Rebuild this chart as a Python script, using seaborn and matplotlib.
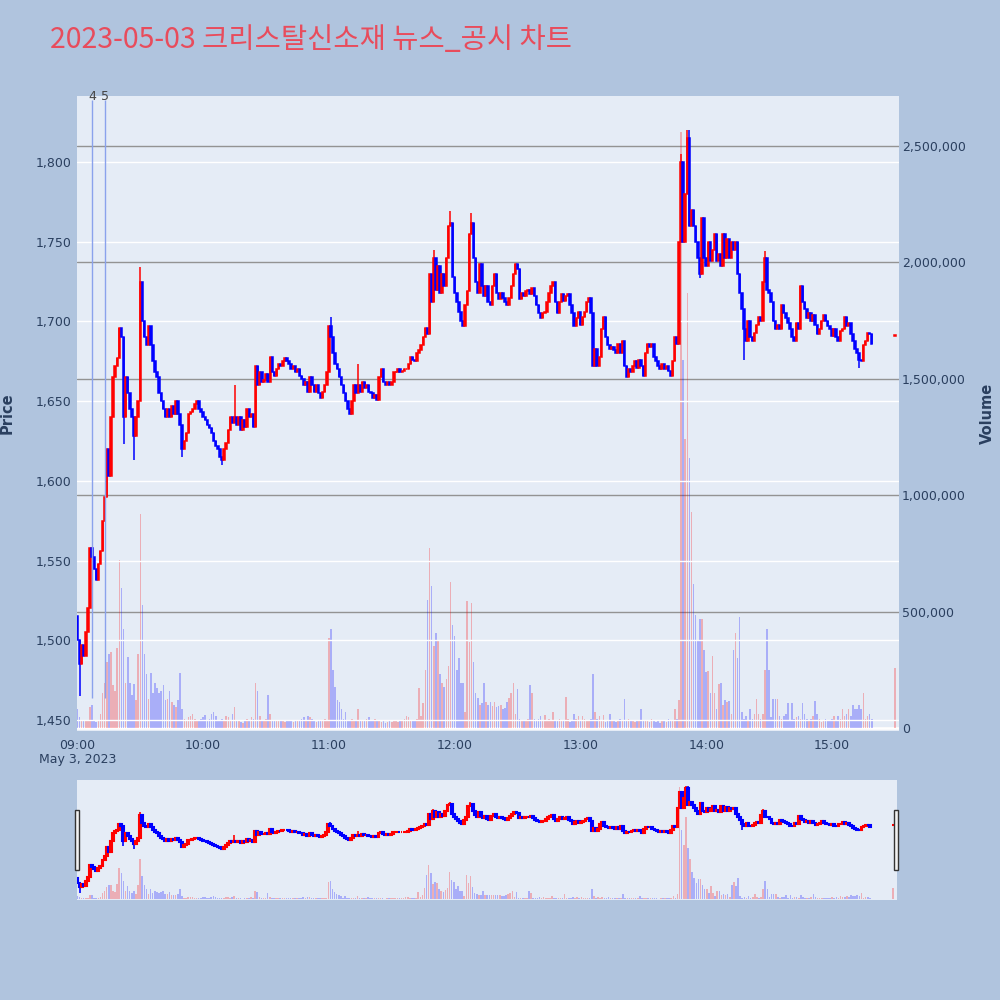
import numpy as np
import pandas as pd
import matplotlib
matplotlib.use("Agg")
import matplotlib.pyplot as plt
import matplotlib.dates as mdates
from matplotlib.ticker import FuncFormatter, FixedLocator
from matplotlib.patches import Rectangle
import seaborn as sns

title = "2023-05-03 크리스탈신소재 뉴스_공시 차트"
day = "2023-05-03"
session_start = "2023-05-03 09:00"
first_open = 1515

# 1-minute closes, 09:00 .. 15:19
closes = [
    1500, 1485, 1497, 1490, 1505, 1520, 1558, 1552, 1545, 1538,
    1548, 1556, 1575, 1590, 1620, 1603, 1640, 1665, 1672, 1677,
    1696, 1690, 1640, 1665, 1655, 1645, 1640, 1628, 1640, 1650,
    1725, 1700, 1690, 1685, 1697, 1685, 1675, 1668, 1665, 1655,
    1650, 1645, 1640, 1645, 1640, 1647, 1642, 1650, 1642, 1635,
    1620, 1625, 1630, 1642, 1643, 1645, 1648, 1650, 1645, 1643,
    1640, 1638, 1635, 1633, 1630, 1625, 1622, 1620, 1615, 1613,
    1620, 1624, 1632, 1640, 1636, 1640, 1635, 1640, 1632, 1638,
    1634, 1645, 1640, 1642, 1634, 1672, 1660, 1668, 1662, 1663,
    1667, 1662, 1678, 1668, 1666, 1670, 1673, 1672, 1675, 1677,
    1675, 1673, 1670, 1672, 1668, 1670, 1666, 1664, 1660, 1662,
    1656, 1665, 1660, 1656, 1660, 1655, 1652, 1656, 1660, 1668,
    1697, 1690, 1680, 1673, 1670, 1665, 1660, 1655, 1650, 1645,
    1642, 1650, 1660, 1655, 1660, 1656, 1662, 1658, 1660, 1656,
    1655, 1652, 1654, 1651, 1665, 1670, 1662, 1660, 1662, 1660,
    1662, 1668, 1668, 1670, 1668, 1669, 1670, 1670, 1673, 1678,
    1676, 1675, 1680, 1682, 1685, 1690, 1696, 1692, 1730, 1712,
    1740, 1720, 1735, 1718, 1730, 1722, 1740, 1760, 1762, 1728,
    1718, 1712, 1706, 1700, 1697, 1710, 1719, 1755, 1762, 1740,
    1725, 1718, 1736, 1722, 1716, 1722, 1712, 1710, 1722, 1730,
    1718, 1714, 1718, 1715, 1712, 1710, 1715, 1722, 1730, 1736,
    1733, 1714, 1718, 1716, 1719, 1720, 1717, 1721, 1716, 1710,
    1705, 1702, 1705, 1706, 1712, 1718, 1722, 1725, 1712, 1705,
    1712, 1717, 1713, 1716, 1717, 1710, 1705, 1697, 1702, 1706,
    1698, 1703, 1706, 1712, 1715, 1705, 1672, 1683, 1672, 1678,
    1695, 1703, 1690, 1685, 1683, 1684, 1682, 1680, 1686, 1680,
    1688, 1672, 1665, 1670, 1668, 1672, 1675, 1671, 1676, 1672,
    1666, 1680, 1686, 1684, 1686, 1678, 1675, 1672, 1670, 1673,
    1670, 1672, 1669, 1666, 1675, 1690, 1686, 1750, 1800, 1750,
    1780, 1815, 1760, 1770, 1760, 1750, 1740, 1730, 1765, 1740,
    1735, 1750, 1738, 1745, 1755, 1738, 1742, 1735, 1755, 1740,
    1752, 1740, 1750, 1745, 1750, 1730, 1718, 1708, 1695, 1688,
    1700, 1690, 1688, 1693, 1698, 1703, 1700, 1725, 1740, 1720,
    1718, 1712, 1700, 1695, 1698, 1695, 1710, 1705, 1702, 1699,
    1695, 1690, 1688, 1699, 1695, 1722, 1712, 1708, 1702, 1705,
    1700, 1704, 1698, 1692, 1695, 1700, 1704, 1700, 1697, 1695,
    1691, 1695, 1690, 1688, 1694, 1695, 1703, 1697, 1699, 1692,
    1688, 1683, 1680, 1676, 1675, 1685, 1688, 1693, 1692, 1686,
]

# 1-minute volume in thousands of shares
volumes_k = [
    80, 45, 30, 35, 30, 35, 90, 97, 30, 25,
    30, 60, 150, 195, 283, 318, 327, 185, 160, 343,
    720, 600, 424, 194, 304, 194, 141, 190, 120, 318,
    918, 530, 318, 230, 124, 238, 150, 194, 170, 150,
    160, 185, 120, 124, 160, 110, 100, 90, 120, 238,
    80, 40, 35, 45, 50, 60, 40, 30, 35, 40,
    45, 55, 30, 40, 60, 70, 50, 35, 30, 40,
    35, 50, 45, 30, 60, 88, 35, 30, 25, 20,
    35, 40, 30, 45, 40, 194, 159, 50, 30, 35,
    40, 141, 60, 35, 30, 35, 30, 35, 30, 25,
    30, 35, 30, 25, 30, 35, 30, 40, 45, 30,
    53, 45, 40, 30, 25, 35, 30, 35, 40, 30,
    388, 424, 247, 177, 120, 110, 80, 40, 70, 35,
    30, 40, 30, 35, 80, 30, 35, 30, 40, 45,
    30, 35, 40, 30, 35, 25, 30, 20, 25, 30,
    25, 30, 35, 25, 30, 35, 40, 50, 45, 35,
    30, 35, 40, 170, 50, 106, 250, 549, 772, 610,
    353, 406, 380, 230, 194, 177, 212, 265, 627, 441,
    397, 247, 300, 194, 194, 70, 547, 370, 539, 283,
    150, 130, 100, 106, 194, 110, 100, 110, 95, 110,
    90, 95, 100, 80, 85, 110, 130, 150, 194, 60,
    168, 40, 30, 35, 30, 40, 185, 150, 40, 30,
    40, 50, 35, 55, 30, 40, 35, 70, 30, 35,
    40, 30, 35, 132, 40, 25, 30, 60, 40, 50,
    30, 50, 40, 35, 30, 40, 230, 70, 40, 50,
    30, 55, 25, 30, 60, 30, 35, 25, 30, 40,
    35, 124, 30, 40, 35, 30, 25, 30, 35, 80,
    30, 35, 30, 25, 40, 30, 25, 30, 20, 35,
    30, 25, 40, 35, 30, 80, 40, 120, 2560, 1580,
    1240, 1870, 1160, 927, 617, 485, 373, 467, 467, 335,
    240, 245, 150, 309, 150, 80, 189, 194, 100, 120,
    110, 115, 60, 335, 406, 300, 477, 70, 40, 50,
    30, 80, 40, 60, 124, 60, 40, 60, 247, 424,
    247, 45, 124, 124, 124, 50, 40, 50, 60, 106,
    30, 106, 40, 45, 50, 40, 106, 60, 40, 30,
    40, 50, 115, 60, 40, 25, 30, 40, 35, 30,
    40, 50, 30, 50, 40, 80, 50, 60, 80, 50,
    97, 80, 80, 100, 80, 150, 40, 50, 60, 40,
]

# closing auction print
auction_time = "2023-05-03 15:30"
auction_price = 1691
auction_volume_k = 257

# wicks that reach past the candle bodies (minute index, price)
high_minute = [30, 75, 121, 134, 170, 178, 188, 288, 291, 292, 328]
high_price = [1734, 1660, 1703, 1673, 1745, 1769, 1768, 1805, 1820, 1820, 1744]
low_minute = [1, 22, 27, 50, 69, 297, 318, 373]
low_price = [1465, 1623, 1613, 1615, 1610, 1727, 1676, 1671]

# news / disclosure markers
news_times = ["2023-05-03 09:07", "2023-05-03 09:13"]
news_labels = ["4", "5"]
news_low, news_high = 1464, 1839

price_ticks = [1450, 1500, 1550, 1600, 1650, 1700, 1750, 1800]
volume_ticks = [0, 500000, 1000000, 1500000, 2000000, 2500000]
hour_ticks = ["09:00", "10:00", "11:00", "12:00", "13:00", "14:00", "15:00"]

UP, DOWN = "#FF0000", "#0000FF"
BG, PLOT_BG, TXT = "#B0C4DE", "#E5ECF6", "#2A3F5F"

# ---- build the frame ----
df = pd.DataFrame({
    "time": pd.date_range(session_start, periods=len(closes), freq="min"),
    "close": closes,
    "volume": np.array(volumes_k) * 1000,
})
df["open"] = [first_open] + closes[:-1]
df["high"] = df[["open", "close"]].max(axis=1)
df["low"] = df[["open", "close"]].min(axis=1)
for m, v in zip(high_minute, high_price):
    df.loc[m, "high"] = max(df.loc[m, "high"], v)
for m, v in zip(low_minute, low_price):
    df.loc[m, "low"] = min(df.loc[m, "low"], v)
df.loc[len(df)] = [pd.Timestamp(auction_time), auction_price, auction_volume_k * 1000,
                   auction_price, auction_price, auction_price]
df["up"] = df["close"] >= df["open"]
df["color"] = np.where(df["up"], UP, DOWN)
df["x"] = mdates.date2num(df["time"])

MIN = 1 / 1440.0
x_lo = mdates.date2num(pd.Timestamp(session_start)) - 0.2 * MIN
x_hi = mdates.date2num(pd.Timestamp("2023-05-03 15:32"))
price_lim = (1443.1, 1841.4)
vol_lim = (-13000, 2715000)

sns.set_theme(style="darkgrid", rc={"axes.facecolor": PLOT_BG, "figure.facecolor": BG})
plt.rcParams["font.family"] = ["DejaVu Sans", "Noto Sans CJK KR"]


def draw_candles(ax, body_w, body_lw, wick_lw):
    ax.vlines(df["x"], df["low"], df["high"], colors=df["color"], linewidth=wick_lw, zorder=3)
    bottoms = df[["open", "close"]].min(axis=1)
    heights = (df["close"] - df["open"]).abs().clip(lower=0.4)
    ax.bar(df["x"], heights, bottom=bottoms, width=body_w * MIN, color=df["color"],
           edgecolor=df["color"], linewidth=body_lw, zorder=4)


def draw_volume(ax):
    ax.bar(df["x"], df["volume"], width=0.75 * MIN, color=df["color"], alpha=0.26,
           linewidth=0, antialiased=False, zorder=2)


fig = plt.figure(figsize=(10, 10), dpi=100, facecolor=BG)

# ---- main chart ----
ax_vol = fig.add_axes([0.077, 0.269, 0.822, 0.635])
ax_vol.set_facecolor(PLOT_BG)
draw_volume(ax_vol)
ax_vol.axhline(0, color="white", linewidth=2, zorder=1)
ax_vol.set_ylim(*vol_lim)
ax_vol.set_xlim(x_lo, x_hi)

ax_p = ax_vol.twinx()
ax_p.patch.set_visible(False)
draw_candles(ax_p, 0.7, 1.1, 1.1)
ax_p.set_ylim(*price_lim)
ax_p.set_xlim(x_lo, x_hi)

for t, lab in zip(news_times, news_labels):
    xt = mdates.date2num(pd.Timestamp(t))
    ax_p.vlines(xt, news_low, news_high, color="#8AA2EC", linewidth=1.0, zorder=5)
    ax_p.text(xt, 1.0, lab, transform=ax_p.get_xaxis_transform(), ha="center", va="center",
              fontsize=9, color="#444444", zorder=6)

ax_vol.yaxis.tick_right()
ax_vol.yaxis.set_label_position("right")
ax_p.yaxis.tick_left()
ax_p.yaxis.set_label_position("left")

ax_vol.yaxis.set_major_locator(FixedLocator(volume_ticks))
ax_vol.yaxis.set_major_formatter(FuncFormatter(lambda v, p: f"{int(v):,}"))
ax_p.yaxis.set_major_locator(FixedLocator(price_ticks))
ax_p.yaxis.set_major_formatter(FuncFormatter(lambda v, p: f"{int(v):,}"))

ax_vol.grid(False)
ax_vol.grid(axis="y", color="#939393", linewidth=1.0)
ax_p.grid(False)
ax_p.grid(axis="y", color="white", linewidth=1.0)
ax_p.set_axisbelow(True)

hour_x = [mdates.date2num(pd.Timestamp(f"{day} {h}")) for h in hour_ticks]
hour_lab = [hour_ticks[0] + "\nMay 3, 2023"] + hour_ticks[1:]
ax_vol.xaxis.set_major_locator(FixedLocator(hour_x))
ax_vol.xaxis.set_major_formatter(FuncFormatter(lambda v, p: hour_lab[p] if p is not None and p < len(hour_lab) else ""))
ax_p.tick_params(axis="x", labelbottom=False)

for a in (ax_vol, ax_p):
    for s in a.spines.values():
        s.set_visible(False)
    a.tick_params(length=0, labelsize=9, labelcolor=TXT)
for lab in ax_vol.get_xticklabels():
    lab.set_linespacing(1.1)
ax_vol.tick_params(axis="x", pad=6)
ax_vol.tick_params(axis="y", pad=2)
ax_p.tick_params(axis="y", pad=4)

ax_p.set_ylabel("Price", fontsize=10.5, fontweight="bold", color=TXT, labelpad=15)
ax_vol.set_ylabel("Volume", fontsize=10.5, fontweight="bold", color=TXT, labelpad=10)

# ---- range slider ----
ax_rs = fig.add_axes([0.077, 0.100, 0.820, 0.120])
ax_rs.set_facecolor(PLOT_BG)
draw_volume(ax_rs)
ax_rs.set_ylim(*vol_lim)
ax_rs.set_xlim(x_lo, x_hi)
ax_rs2 = ax_rs.twinx()
ax_rs2.patch.set_visible(False)
draw_candles(ax_rs2, 0.9, 1.5, 1.2)
ax_rs2.set_ylim(*price_lim)
ax_rs2.set_xlim(x_lo, x_hi)
for a in (ax_rs, ax_rs2):
    a.grid(False)
    a.tick_params(left=False, right=False, bottom=False, labelleft=False,
                  labelright=False, labelbottom=False)
    for s in a.spines.values():
        s.set_visible(False)

for hx in (0.0745, 0.8942):
    fig.add_artist(Rectangle((hx, 0.130), 0.0042, 0.060, transform=fig.transFigure,
                             facecolor="#F2F2F2", edgecolor="#333333", linewidth=1.0,
                             zorder=10))

fig.text(0.050, 0.960, title, fontsize=20.5, color="#E84C5C", ha="left", va="center",
         family=["Noto Sans CJK KR", "DejaVu Sans"])

fig.savefig("out.png", dpi=100, facecolor=BG)
